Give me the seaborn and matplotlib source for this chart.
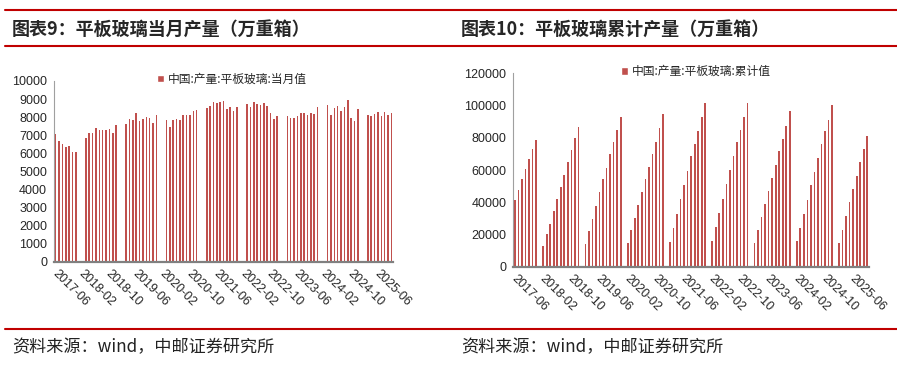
import numpy as np
import pandas as pd
import matplotlib
matplotlib.use('Agg')
import matplotlib.pyplot as plt
import seaborn as sns
from matplotlib.lines import Line2D
from matplotlib.patches import Patch

# 数据：2017-06 至 2025-10，每年 1-2 月当月值缺失，1 月累计值缺失
nan = np.nan
months = [str(p) for p in pd.period_range('2017-06', '2025-10', freq='M')]

monthly = [
    7070, 6680, 6520, 6370, 6420, 6070, 6070,
    nan, nan, 6870, 7120, 7120, 7420, 7290, 7290, 7290, 7340, 7140, 7570,
    nan, nan, 7640, 7880, 7860, 8250, 7810, 7920, 8030, 7930, 7690, 8140,
    nan, nan, 7860, 7460, 7860, 7920, 7860, 8140, 8140, 8140, 8340, 8410,
    nan, nan, 8520, 8630, 8850, 8760, 8850, 8910, 8430, 8580, 8340, 8580,
    nan, nan, 8730, 8580, 8850, 8740, 8690, 8780, 8630, 8230, 7920, 8060,
    nan, nan, 8040, 7930, 7970, 8080, 8250, 8250, 8140, 8250, 8190, 8540,
    nan, nan, 8690, 8140, 8490, 8630, 8320, 8580, 8930, 7930, 7810, 8430,
    nan, nan, 8140, 8040, 8190, 8300, 8080, 8300, 8140, 8250,
]

cumulative = [
    41360, 47560, 54180, 60800, 66800, 72790, 78790,
    nan, 12820, 20060, 26470, 34330, 41980, 49430, 56870, 64730, 72170, 79620, 86860,
    nan, 14270, 22330, 29570, 37640, 46320, 54180, 61420, 69690, 77340, 84580, 92850,
    nan, 14890, 22750, 30190, 38050, 46320, 54180, 62040, 69900, 77340, 86240, 94710,
    nan, 15300, 23990, 32670, 41980, 50670, 59350, 68860, 76100, 83960, 92850, 101330,
    nan, 15920, 24610, 33300, 41980, 51290, 59970, 68860, 77340, 84790, 92850, 101330,
    nan, 14890, 22750, 30610, 38880, 46740, 54800, 62870, 71970, 79410, 87480, 96580,
    nan, 15920, 23990, 32670, 41360, 50670, 58730, 67420, 76100, 84170, 90790, 100090,
    nan, 14680, 22750, 31430, 40120, 48180, 56040, 64730, 72790, 81070,
]

tick_labels = ['2017-06', '2018-02', '2018-10', '2019-06', '2020-02', '2020-10',
               '2021-06', '2022-02', '2022-10', '2023-06', '2024-02', '2024-10',
               '2025-06']

titles = ['图表9：平板玻璃当月产量（万重箱）', '图表10：平板玻璃累计产量（万重箱）']
legend_labels = ['中国:产量:平板玻璃:当月值', '中国:产量:平板玻璃:累计值']
source = '资料来源：wind，中邮证券研究所'

sns.set_style('white')
plt.rcParams['font.family'] = ['Liberation Sans', 'Noto Sans CJK SC']

BAR = '#C0504D'
RED = '#C00000'
CJK = ['Noto Sans CJK SC', 'DejaVu Sans']

fig = plt.figure(figsize=(8.97, 3.69), dpi=100)
ax1 = fig.add_axes([0.0602, 0.290, 0.378, 0.4905])
ax2 = fig.add_axes([0.5722, 0.2772, 0.3966, 0.524])


def draw(ax, values, ymax, ystep, label):
    df = pd.DataFrame({'month': months, 'value': values})
    sns.barplot(data=df, x='month', y='value', order=months, color=BAR,
                saturation=1, width=0.48, linewidth=0, ax=ax)
    ax.set_xlim(-0.5, len(months) - 0.5)
    ax.set_ylim(0, ymax)
    ax.set_yticks(np.arange(0, ymax + 1, ystep))
    ax.set_xticks([i - 0.5 for i in range(0, len(months), 8)])
    ax.set_xticklabels(tick_labels, rotation=-45, ha='left', va='center',
                       rotation_mode='anchor', fontsize=9)
    ax.tick_params(axis='y', labelsize=9, length=3, color='#808080', pad=2)
    ax.tick_params(axis='x', length=4, color='#404040', pad=3)
    ax.set_xlabel('')
    ax.set_ylabel('')
    for s in ['top', 'right']:
        ax.spines[s].set_visible(False)
    ax.spines['left'].set_color('#A0A0A0')
    ax.spines['left'].set_linewidth(0.8)
    ax.spines['bottom'].set_color('#808080')
    ax.spines['bottom'].set_linewidth(1.6)
    ax.legend(handles=[Patch(facecolor=BAR)], labels=[label],
              loc='center left', bbox_to_anchor=(0.29, 1.01), frameon=False,
              handlelength=0.6, handleheight=0.6, handletextpad=0.3,
              borderaxespad=0, prop={'family': CJK, 'size': 8.5})


draw(ax1, monthly, 10000, 1000, legend_labels[0])
draw(ax2, cumulative, 120000, 20000, legend_labels[1])

# 标题、分隔线、资料来源
for y in [1 - 10 / 369, 1 - 46 / 369, 1 - 329 / 369]:
    fig.add_artist(Line2D([5 / 897, 1.0], [y, y], color=RED, lw=1.5))

fig.text(12 / 897, 1 - 29 / 369, titles[0], fontsize=13, weight='bold',
         va='center', family=CJK)
fig.text(461 / 897, 1 - 29 / 369, titles[1], fontsize=13, weight='bold',
         va='center', family=CJK)
fig.text(12 / 897, 1 - 347 / 369, source, fontsize=12.3, va='center',
         color='#222222', family=CJK)
fig.text(461 / 897, 1 - 347 / 369, source, fontsize=12.3, va='center',
         color='#222222', family=CJK)

fig.savefig('out.png', dpi=100)
